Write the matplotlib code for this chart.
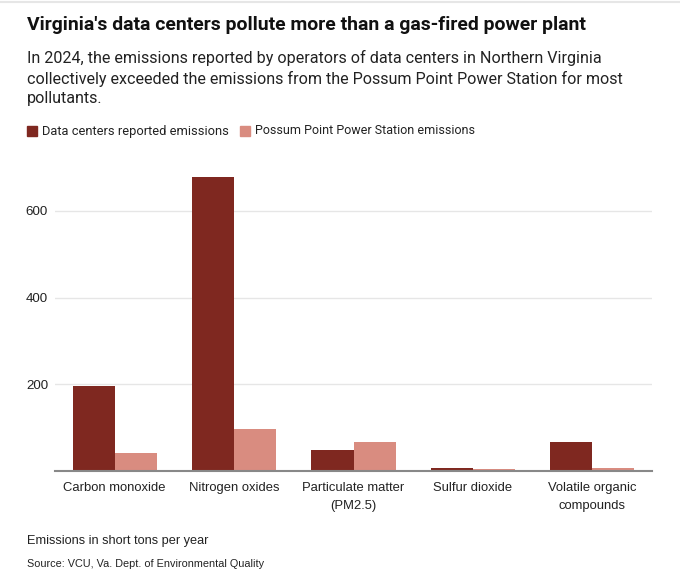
import matplotlib
matplotlib.use("Agg")
import matplotlib.pyplot as plt
import numpy as np
from matplotlib.patches import Rectangle

# Data (short tons per year)
categories = ["Carbon monoxide", "Nitrogen oxides", "Particulate matter\n(PM2.5)",
              "Sulfur dioxide", "Volatile organic\ncompounds"]
data_centers = [195, 677, 48, 8, 67]
possum_point = [42, 98, 67, 4, 6]
y_ticks = [200, 400, 600]

DARK = "#7f2820"
LIGHT = "#d98c80"
TXT = "#222222"
HEAD = ["Roboto", "DejaVu Sans"]
SANS = ["Liberation Sans", "DejaVu Sans"]

fig = plt.figure(figsize=(6.8, 5.81), dpi=100)
W, H = 680, 581
renderer = fig.canvas.get_renderer()

def fx(px): return px / W
def fy(py): return 1 - py / H

def fit(t, target_px):
    # scale font size so the text spans target_px
    w = t.get_window_extent(renderer).width
    t.set_fontsize(t.get_fontsize() * target_px / w)

# top rule
fig.add_artist(plt.Line2D([0, 1], [fy(2), fy(2)], color="#e6e6e6", lw=1.5))

title = fig.text(fx(27), fy(25), "Virginia's data centers pollute more than a gas-fired power plant",
                 fontsize=13.5, fontweight="bold", family=HEAD, color="#111111", va="center")
fit(title, 556)

sub_lines = ["In 2024, the emissions reported by operators of data centers in Northern Virginia",
             "collectively exceeded the emissions from the Possum Point Power Station for most",
             "pollutants."]
probe = fig.text(0, 0, sub_lines[0], fontsize=11.8, family=HEAD)
fit(probe, 578)
sub_size = probe.get_fontsize()
probe.remove()
for i, line in enumerate(sub_lines):
    fig.text(fx(27), fy(58 + 20.5 * i), line, fontsize=sub_size, family=HEAD,
             color=TXT, va="center")

# legend
for x0, col, lab, tw in [(27, DARK, "Data centers reported emissions", 187),
                         (240, LIGHT, "Possum Point Power Station emissions", 221)]:
    fig.add_artist(Rectangle((fx(x0), fy(136)), 10 / W, 10 / H, color=col,
                             transform=fig.transFigure))
    t = fig.text(fx(x0 + 15), fy(131), lab, fontsize=9.6, family=HEAD, color=TXT, va="center")
    fit(t, tw)

ax = fig.add_axes([fx(55), fy(471), fx(652) - fx(55), 303.5 / H])
x = np.arange(len(categories))
w = 0.352
ax.bar(x - w / 2, data_centers, w, color=DARK, zorder=3)
ax.bar(x + w / 2, possum_point, w, color=LIGHT, zorder=3)
ax.set_xlim(-0.5, len(categories) - 0.5)
ax.set_ylim(0, 700)
ax.set_yticks(y_ticks)
ax.set_xticks(x)
ax.set_xticklabels(categories, fontsize=9.4, family=SANS, color=TXT, linespacing=1.6)
for t in ax.get_yticklabels():
    t.set_fontsize(9.6)
    t.set_family(SANS)
    t.set_color(TXT)
ax.grid(axis="y", color="#e6e6e6", lw=1, zorder=0)
ax.tick_params(axis="x", length=0, pad=8)
ax.tick_params(axis="y", length=0, pad=5)
for s in ["top", "right", "left"]:
    ax.spines[s].set_visible(False)
ax.spines["bottom"].set_color("#888888")
ax.spines["bottom"].set_linewidth(1.5)
ax.spines["bottom"].set_zorder(4)

fig.text(fx(27), fy(541), "Emissions in short tons per year", fontsize=9.2,
         family=SANS, color=TXT, va="center")
fig.text(fx(27), fy(564), "Source: VCU, Va. Dept. of Environmental Quality", fontsize=7.8,
         family=SANS, color=TXT, va="center")

fig.savefig("out.png", dpi=100, facecolor="white")
